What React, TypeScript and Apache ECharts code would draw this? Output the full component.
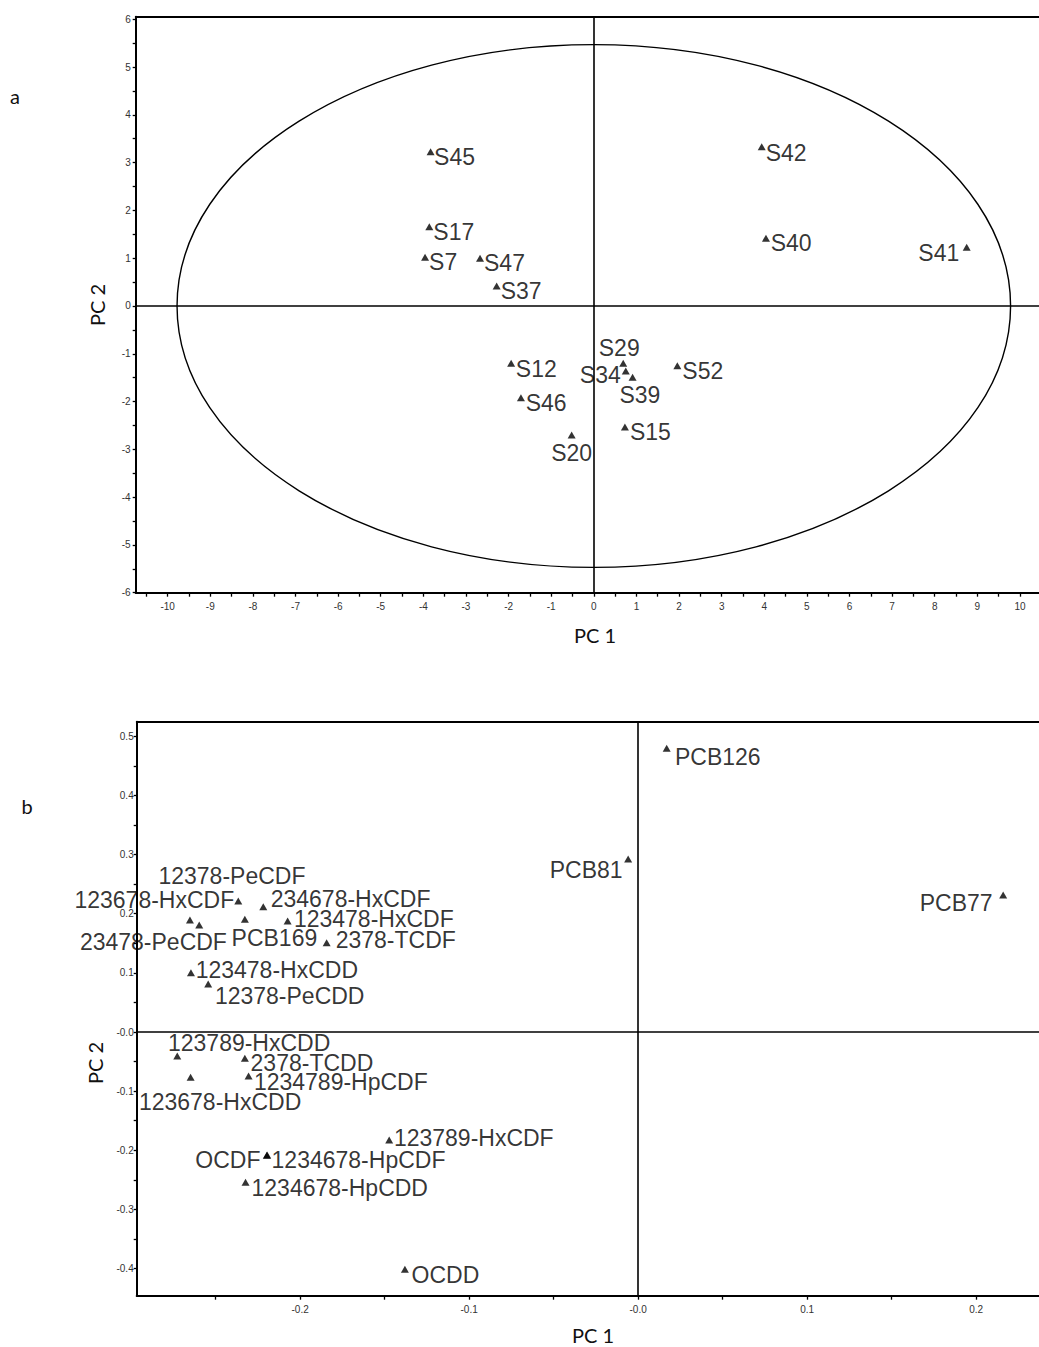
import React, { useEffect, useRef } from "react";
import * as echarts from "echarts";

// ---- Panel a: sample scores ----
const SAMPLE_NAMES = ["S45", "S17", "S7", "S47", "S37", "S42", "S40", "S41", "S12", "S46", "S20", "S29", "S34", "S39", "S52", "S15"];
const SAMPLE_PC1 = [-3.83, -3.86, -3.96, -2.67, -2.28, 3.94, 4.04, 8.75, -1.94, -1.71, -0.52, 0.69, 0.75, 0.91, 1.96, 0.73];
const SAMPLE_PC2 = [3.23, 1.66, 1.02, 1.0, 0.42, 3.33, 1.42, 1.23, -1.2, -1.92, -2.7, -1.2, -1.36, -1.49, -1.25, -2.53];

// Hotelling T2 ellipse semi-axes (PC1, PC2)
const ELLIPSE_RX = 9.78;
const ELLIPSE_RY = 5.47;

const TOP_X_LABELS = [-10, -9, -8, -7, -6, -5, -4, -3, -2, -1, 0, 1, 2, 3, 4, 5, 6, 7, 8, 9, 10];
const TOP_Y_LABELS = [-6, -5, -4, -3, -2, -1, 0, 1, 2, 3, 4, 5, 6];

// ---- Panel b: congener loadings ----
const CONGENER_NAMES = [
  "12378-PeCDF", "123678-HxCDF", "23478-PeCDF", "PCB169", "234678-HxCDF", "123478-HxCDF", "2378-TCDF",
  "123478-HxCDD", "12378-PeCDD", "123789-HxCDD", "123678-HxCDD", "2378-TCDD", "1234789-HpCDF",
  "123789-HxCDF", "1234678-HpCDF", "OCDF", "1234678-HpCDD", "OCDD", "PCB126", "PCB81", "PCB77",
];
const CONGENER_PC1 = [
  -0.2366, -0.2652, -0.2597, -0.2327, -0.2218, -0.2074, -0.1843,
  -0.2646, -0.2544, -0.2727, -0.2648, -0.2327, -0.2305,
  -0.1473, -0.2195, -0.2197, -0.2323, -0.138, 0.0169, -0.0059, 0.216,
];
const CONGENER_PC2 = [
  0.2215, 0.1894, 0.1809, 0.1905, 0.2118, 0.1877, 0.151,
  0.1003, 0.0811, -0.0406, -0.0766, -0.0445, -0.0744,
  -0.1826, -0.208, -0.2083, -0.2541, -0.4012, 0.4796, 0.2925, 0.2316,
];

const BOTTOM_X_LABELS = [-0.2, -0.1, 0, 0.1, 0.2];
const BOTTOM_Y_LABELS = [-0.4, -0.3, -0.2, -0.1, 0, 0.1, 0.2, 0.3, 0.4, 0.5];

// ---- label placement: [align, dx, dy] from the marker centre ----
type Place = [string, number, number];
const SAMPLE_LABEL_PLACE: Record<string, Place> = {
  S45: ["left", 3.5, 5], S17: ["left", 4, 5.3], S7: ["left", 4, 5.2], S47: ["left", 4, 5],
  S37: ["left", 4, 5.3], S42: ["left", 4, 6.5], S40: ["left", 4.7, 5], S41: ["right", -7.4, 6],
  S12: ["left", 4.7, 5.4], S46: ["left", 4.7, 5.6], S20: ["center", 0, 18.3], S29: ["center", -4, -15.3],
  S34: ["right", -5, 4], S39: ["center", 7.3, 18], S52: ["left", 5, 5.6], S15: ["left", 5, 5.3],
};
const CONGENER_LABEL_PLACE: Record<string, Place> = {
  "12378-PeCDF": ["center", -6.3, -24.5],
  "123678-HxCDF": ["right", 44.3, -20],
  "23478-PeCDF": ["right", 27.7, 16.5],
  PCB169: ["left", -13.3, 19],
  "234678-HxCDF": ["left", 7.4, -7.7],
  "123478-HxCDF": ["left", 6.3, -2.3],
  "2378-TCDF": ["left", 9, -2.7],
  "123478-HxCDD": ["left", 4.7, -2.7],
  "12378-PeCDD": ["left", 6.7, 12.2],
  "123789-HxCDD": ["left", -9.3, -12.7],
  "123678-HxCDD": ["left", -51.7, 24.7],
  "2378-TCDD": ["left", 5.7, 5],
  "1234789-HpCDF": ["left", 5.3, 6.3],
  "123789-HxCDF": ["left", 4.7, -1.7],
  "1234678-HpCDF": ["left", 4.4, 5],
  OCDF: ["right", -6.3, 5],
  "1234678-HpCDD": ["left", 6, 5.2],
  OCDD: ["left", 6.7, 5.7],
  PCB126: ["left", 8.3, 8.4],
  PCB81: ["right", -5.6, 11],
  PCB77: ["right", -10.6, 8.3],
};

const W = 1039;
const H = 1347;
const MARK_W = 8;
const MARK_H = 7;
const LABEL_FONT = "'Liberation Sans', Arial, sans-serif";
const TITLE_FONT = "Lato, 'Open Sans', sans-serif";

// tick positions every `step` that fall inside [lo, hi]
function stepTicks(lo: number, hi: number, step: number): number[] {
  const out: number[] = [];
  for (let k = Math.ceil(lo / step - 1e-9); k * step <= hi + 1e-9; k++) {
    out.push(Math.round(k * step * 1e6) / 1e6);
  }
  return out;
}

function pointData(names: string[], xs: number[], ys: number[], place: Record<string, Place>) {
  return names.map((name, i) => {
    const [align, dx, dy] = place[name] || ["left", 5, 5];
    return {
      name,
      value: [xs[i], ys[i]],
      label: {
        show: true,
        formatter: "{b}",
        position: [MARK_W / 2 + dx, MARK_H / 2 + dy],
        align,
        verticalAlign: "middle",
        fontSize: 23,
        fontFamily: LABEL_FONT,
        color: "#000",
      },
    };
  });
}

const zeroLines = {
  silent: true,
  symbol: ["none", "none"],
  label: { show: false },
  lineStyle: { color: "#000", width: 1.6, type: "solid" },
  emphasis: { disabled: true },
  data: [{ xAxis: 0 }, { yAxis: 0 }],
};

function mainXAxis(gridIndex: number, min: number, max: number, ticks: number[], labels: number[], fmt: (v: number) => string) {
  return {
    type: "value",
    gridIndex,
    min,
    max,
    position: "bottom",
    splitLine: { show: false },
    axisLine: { show: true, onZero: false, lineStyle: { color: "#000", width: 2 } },
    axisTick: { show: true, length: 4, customValues: ticks, lineStyle: { color: "#000", width: 1.3 } },
    axisLabel: { show: true, customValues: labels, formatter: fmt, fontSize: 10, color: "#333", margin: 9, fontFamily: LABEL_FONT },
  };
}

function mainYAxis(gridIndex: number, min: number, max: number, ticks: number[], labels: number[], fmt: (v: number) => string, margin: number) {
  return {
    type: "value",
    gridIndex,
    min,
    max,
    position: "left",
    splitLine: { show: false },
    axisLine: { show: true, onZero: false, lineStyle: { color: "#000", width: 2 } },
    axisTick: { show: true, length: 3, customValues: ticks, lineStyle: { color: "#000", width: 1.3 } },
    axisLabel: { show: true, customValues: labels, formatter: fmt, fontSize: 10, color: "#333", margin, fontFamily: LABEL_FONT },
  };
}

function borderAxis(gridIndex: number, min: number, max: number) {
  return {
    type: "value",
    gridIndex,
    min,
    max,
    position: "top",
    splitLine: { show: false },
    axisLine: { show: true, onZero: false, lineStyle: { color: "#000", width: 1.8 } },
    axisTick: { show: false },
    axisLabel: { show: false },
  };
}

function title(text: string, x: number, y: number, size: number, rotated = false) {
  return {
    type: "text",
    x,
    y,
    rotation: rotated ? Math.PI / 2 : 0,
    style: { text, fontSize: size, fontWeight: "normal", fontFamily: TITLE_FONT, fill: "#111", align: "center", verticalAlign: "middle" },
  };
}

export default function App() {
  const ref = useRef<HTMLDivElement>(null);

  useEffect(() => {
    if (!ref.current) return;
    const chart = echarts.init(ref.current, undefined, { renderer: "svg" });

    // panel a extents
    const aLeft = 135.7, aTop = 16.7, aBottom = 592.7;
    const aXMin = -10.75, aXMax = -10.75 + (W - aLeft) / 42.615;
    const aYMin = -6, aYMax = 6.054;

    // panel b extents
    const bLeft = 136.7, bTop = 721.7, bBottom = 1295.7;
    const bXMin = -0.2967, bXMax = -0.2967 + (W - bLeft) / 1690;
    const bYMin = -0.4458, bYMax = 0.5246;

    const intFmt = (v: number) => String(Math.round(v));
    const decFmt = (v: number) => (Math.abs(v) < 1e-9 ? "-0.0" : v.toFixed(1));

    chart.setOption({
      animation: false,
      backgroundColor: "#fff",
      grid: [
        { left: aLeft, right: 0, top: aTop, bottom: H - aBottom, containLabel: false },
        { left: bLeft, right: 0, top: bTop, bottom: H - bBottom, containLabel: false },
      ],
      xAxis: [
        mainXAxis(0, aXMin, aXMax, stepTicks(aXMin, aXMax, 0.5), TOP_X_LABELS, intFmt),
        borderAxis(0, aXMin, aXMax),
        mainXAxis(1, bXMin, bXMax, stepTicks(bXMin, bXMax, 0.05), BOTTOM_X_LABELS, decFmt),
        borderAxis(1, bXMin, bXMax),
      ],
      yAxis: [
        mainYAxis(0, aYMin, aYMax, stepTicks(aYMin, 6, 0.5), TOP_Y_LABELS, intFmt, 5),
        mainYAxis(1, bYMin, bYMax, stepTicks(bYMin, bYMax, 0.05), BOTTOM_Y_LABELS, decFmt, 3),
      ],
      series: [
        {
          type: "custom",
          xAxisIndex: 0,
          yAxisIndex: 0,
          silent: true,
          clip: false,
          data: [[0, 0]],
          renderItem: (_params: any, api: any) => {
            const c = api.coord([api.value(0), api.value(1)]);
            const s = api.size([ELLIPSE_RX, ELLIPSE_RY]);
            return {
              type: "ellipse",
              shape: { cx: c[0], cy: c[1], rx: s[0], ry: s[1] },
              style: { fill: "none", stroke: "#000", lineWidth: 1.4 },
            };
          },
        },
        {
          type: "scatter",
          xAxisIndex: 0,
          yAxisIndex: 0,
          symbol: "triangle",
          symbolSize: [MARK_W, MARK_H],
          itemStyle: { color: "#000" },
          emphasis: { disabled: true },
          data: pointData(SAMPLE_NAMES, SAMPLE_PC1, SAMPLE_PC2, SAMPLE_LABEL_PLACE),
          markLine: zeroLines,
          z: 3,
        },
        {
          type: "scatter",
          xAxisIndex: 2,
          yAxisIndex: 1,
          symbol: "triangle",
          symbolSize: [MARK_W, MARK_H],
          itemStyle: { color: "#000" },
          emphasis: { disabled: true },
          data: pointData(CONGENER_NAMES, CONGENER_PC1, CONGENER_PC2, CONGENER_LABEL_PLACE),
          markLine: zeroLines,
          z: 3,
        },
      ],
      graphic: [
        title("a", 15, 96, 20),
        title("b", 27, 806, 20),
        title("PC 1", 595, 635, 20),
        title("PC 2", 97, 305, 20, true),
        title("PC 1", 593, 1335, 20),
        title("PC 2", 95, 1063, 20, true),
      ],
    });

    return () => chart.dispose();
  }, []);

  return <div ref={ref} style={{ position: "absolute", left: 0, top: 0, width: W, height: H, background: "#fff" }} />;
}
